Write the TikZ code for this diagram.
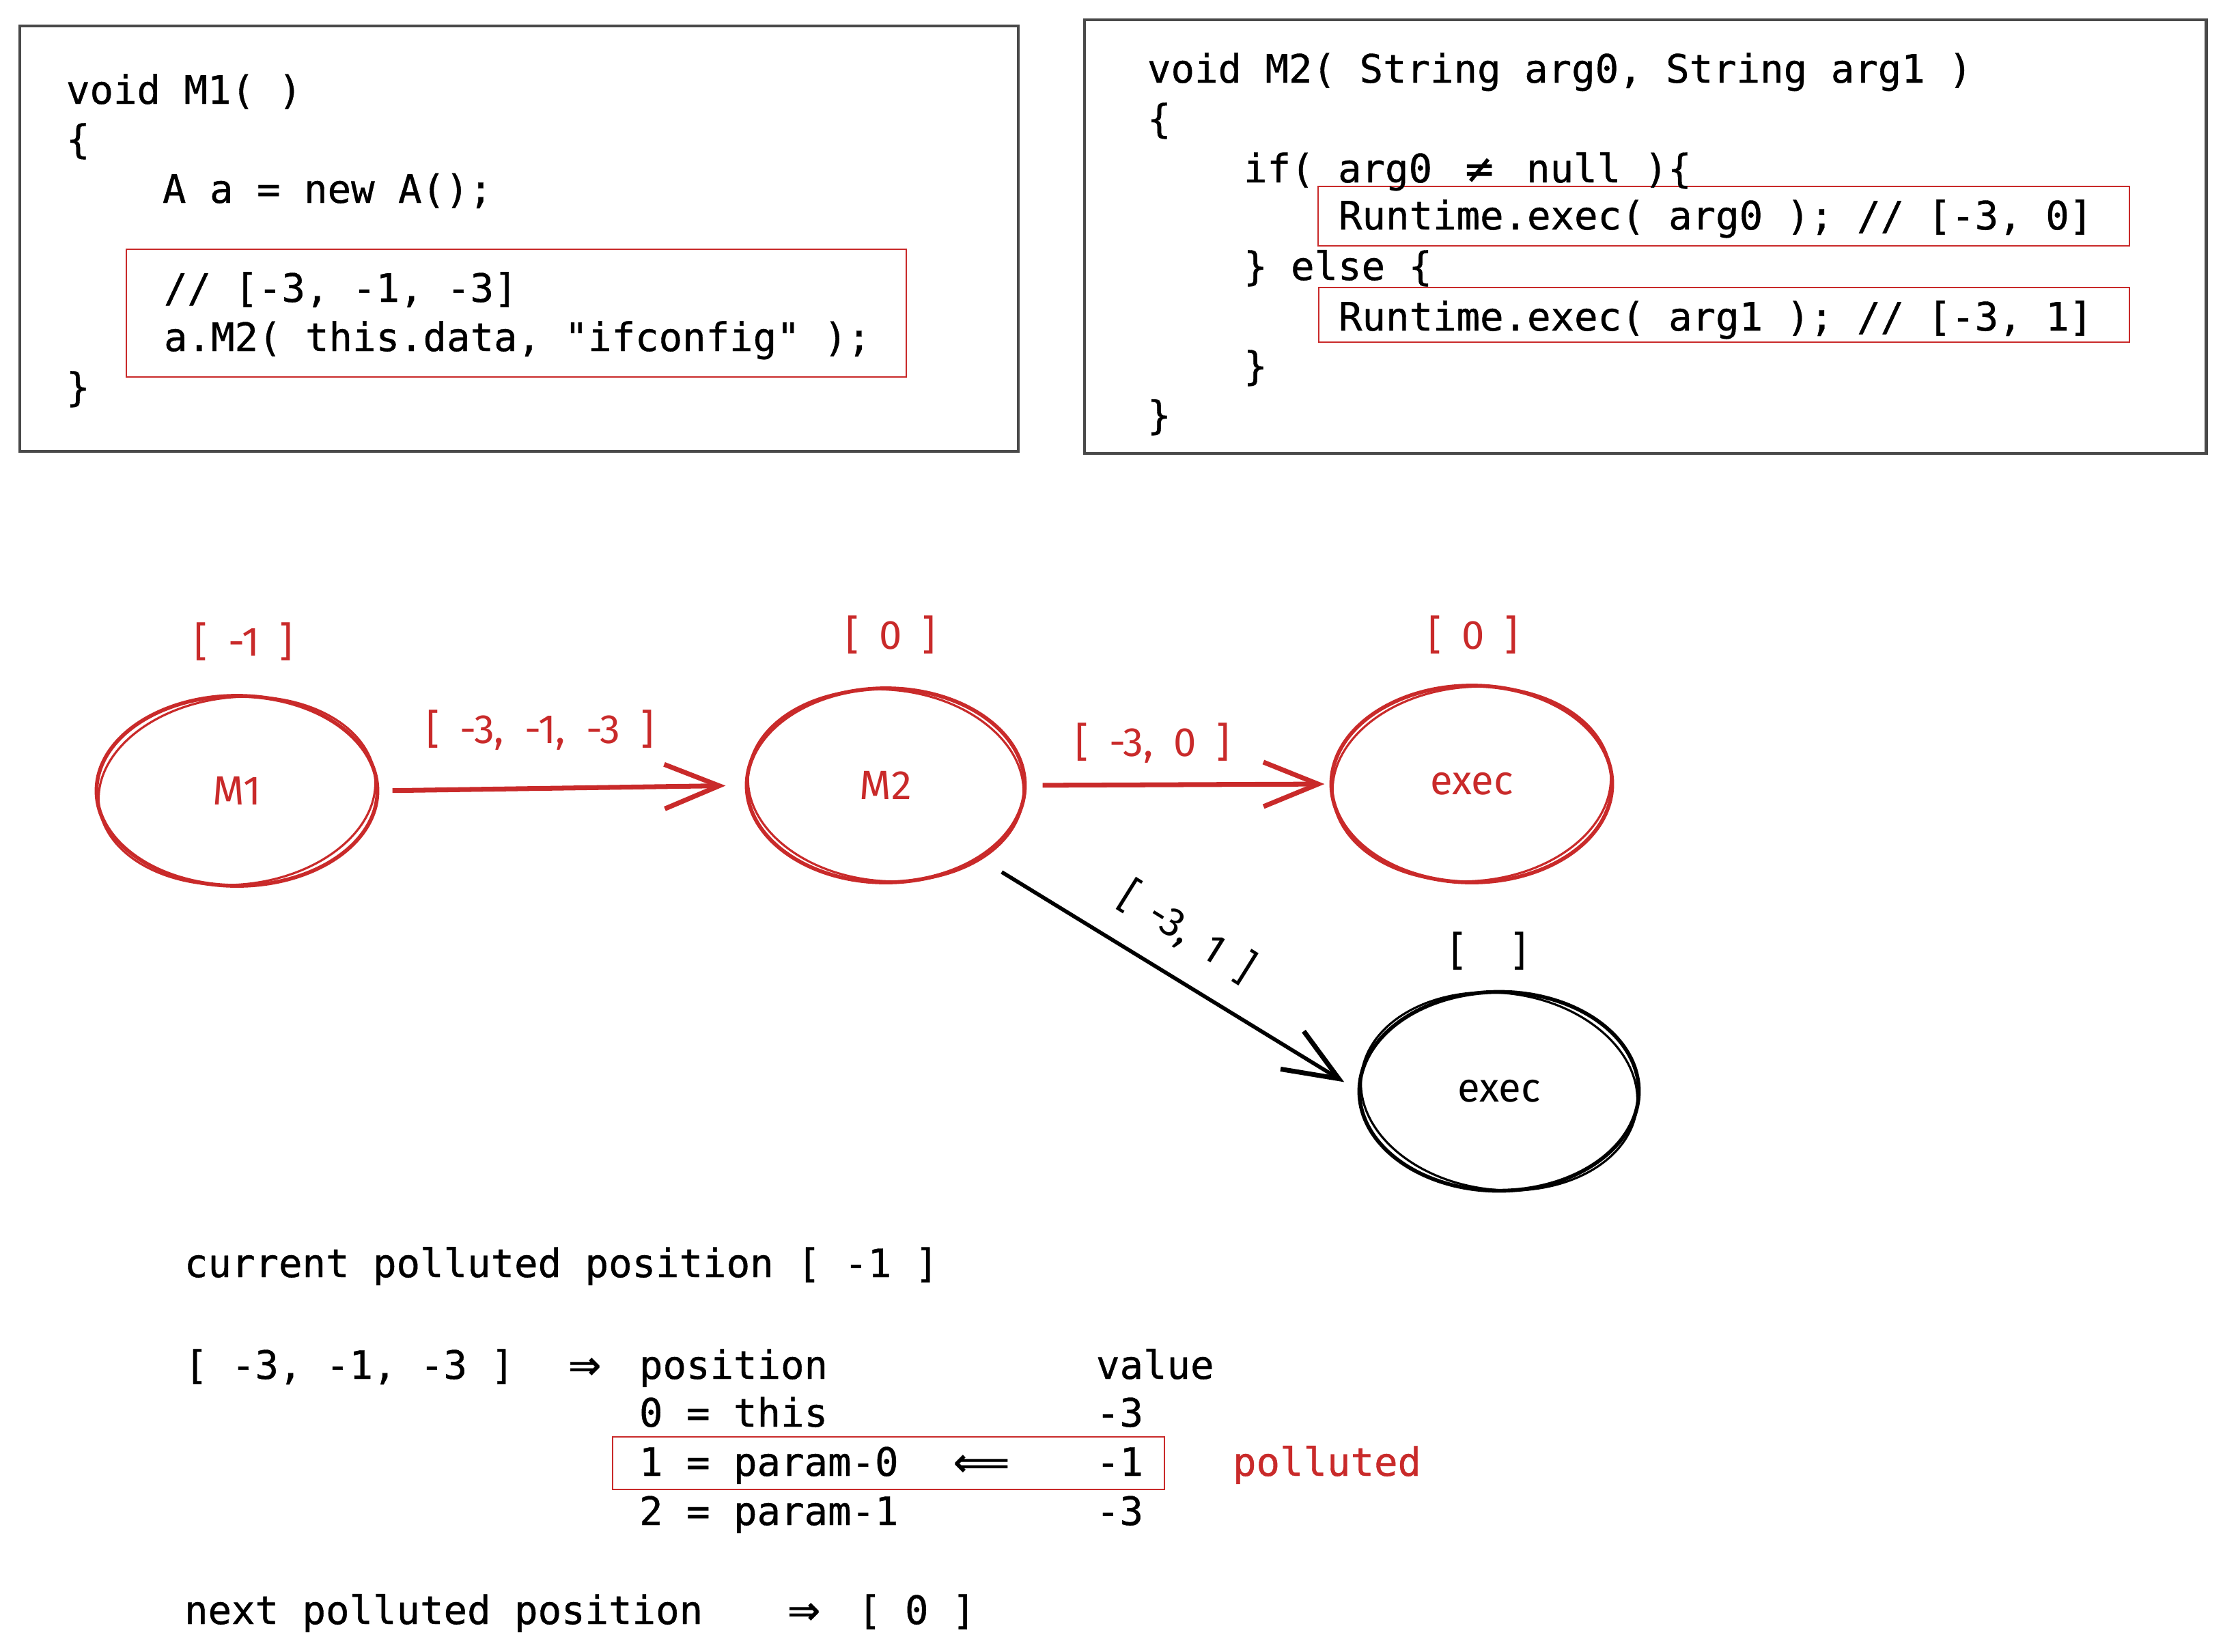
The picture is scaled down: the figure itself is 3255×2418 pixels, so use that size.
\documentclass[tikz,border=0pt]{standalone}
\usepackage{fontspec}
\setmonofont{DejaVu Sans Mono}[FakeBold=0.7]
\newfontfamily\handfont{Fira Sans}
\newfontfamily\arrowfont{DejaVu Sans}[FakeBold=1.5]
\usetikzlibrary{shapes.geometric,arrows.meta}
\definecolor{sred}{RGB}{201,42,42}
\definecolor{sgray}{RGB}{73,73,73}
\begin{document}
\begin{tikzpicture}[x=0.01cm, y=-0.01cm,
  code/.style={font=\ttfamily\fontsize{16.3}{20.6}\selectfont, anchor=base west, inner sep=0pt, outer sep=0pt},
  arw/.style={font=\arrowfont\fontsize{16.3}{20.6}\selectfont, anchor=base west, inner sep=0pt, outer sep=0pt},
  codebox/.style={draw=sgray, line width=1.4pt},
  markbox/.style={draw=sred, line width=0.8pt},
  blob/.style={ellipse, draw, line width=1.6pt, inner sep=0pt, outer sep=0pt, font=\handfont\fontsize{17}{20}\selectfont},
  tag/.style={font=\handfont\fontsize{17}{20}\selectfont, inner sep=0pt},
  sketch/.style={line width=0.9pt},
  link/.style={line width=2pt, -{Straight Barb[length=0.8cm, width=0.65cm, line width=2pt]}}
]
\useasboundingbox (0,0) rectangle (3255,2418);
\fill[white] (0,0) rectangle (3255,2418);

% code boxes
\draw[codebox] (29,38) rectangle (1491,661);
\draw[codebox] (1588,29) rectangle (3230,664);
\draw[markbox] (185,365) rectangle (1327,552);
\draw[markbox] (1930,273) rectangle (3118,360);
\draw[markbox] (1931,421) rectangle (3118,501);

% left code
\node[code] (l1) at (97,152) {void M1( )};
\node[code] (l2) at (97,224) {\{};
\node[code] (l3) at (238,297) {A a = new A();};
\node[code] (l4) at (240,442) {// [-3, -1, -3]};
\node[code] (l5) at (240,514) {a.M2( this.data, "ifconfig" );};
\node[code] (l6) at (97,587) {\}};

% right code
\node[code] (r1) at (1680,121) {void M2( String arg0, String arg1 )};
\node[code] (r2) at (1680,194) {\{};
\node[code] (r3) at (1821,267) {if( arg0 \makebox[19.62pt]{{\arrowfont ≠}} null )\{};
\node[code] (r4) at (1960,336) {Runtime.exec( arg0 ); // [-3, 0]};
\node[code] (r5) at (1821,410) {\} else \{};
\node[code] (r6) at (1960,484) {Runtime.exec( arg1 ); // [-3, 1]};
\node[code] (r7) at (1821,556) {\}};
\node[code] (r8) at (1680,628) {\}};

% graph
\node[blob, sred, minimum width=4.11cm, minimum height=2.78cm] (M1) at (347,1158) {M1};
\node[blob, sred, minimum width=4.07cm, minimum height=2.84cm] (M2) at (1297,1150) {M2};
\node[blob, sred, minimum width=4.11cm, minimum height=2.88cm] (execR) at (2155,1148) {exec};
\node[blob, black, minimum width=4.09cm, minimum height=2.91cm] (execB) at (2195,1598) {exec};

\draw[sketch, sred, rotate around={6:(M1.center)}] (M1.center) ellipse [x radius=2.03cm, y radius=1.37cm];
\draw[sketch, sred, rotate around={-5:(M2.center)}] (M2.center) ellipse [x radius=2.02cm, y radius=1.40cm];
\draw[sketch, sred, rotate around={5:(execR.center)}] (execR.center) ellipse [x radius=2.04cm, y radius=1.42cm];
\draw[sketch, black, rotate around={-7:(execB.center)}] (execB.center) ellipse [x radius=2.03cm, y radius=1.44cm];

\node[tag, sred] (tM1) at (357,940) {[\enspace-1\enspace]};
\node[tag, sred] (tM2) at (1304,930) {[\enspace 0\enspace]};
\node[tag, sred] (tER) at (2157,930) {[\enspace 0\enspace]};
\node[tag, black] (tEB) at (2180,1393) {[\hspace{1.2em}]};

\draw[link, sred, shorten <=0.22cm, shorten >=0.31cm] (M1.east) -- (M2.west);
\draw[link, sred, shorten <=0.26cm, shorten >=0.1cm] (M2.east) -- (execR.west);
\draw[link, black, line width=1.6pt, shorten <=0.4cm, shorten >=0.26cm] (M2.-38) -- (execB.west);

\node[tag, sred] (e1) at (791,1069) {[\enspace-3,\enspace-1,\enspace-3\enspace]};
\node[tag, sred] (e2) at (1688,1088) {[\enspace-3,\enspace 0\enspace]};
\node[tag, black, rotate=-32] (e3) at (1738,1365) {[\enspace-3,\enspace 1\enspace]};

% bottom notes
\node[code] (n1) at (270,1870) {current polluted position [ -1 ]};
\node[code] (n2) at (270,2019) {[ -3, -1, -3 ]};
\node[arw] (n3) at (832,2019) {⇒};
\node[code] (n4) at (936,2019) {position};
\node[code] (n5) at (1605,2019) {value};
\node[code] (n6) at (936,2089) {0 = this};
\node[code] (n7) at (1605,2089) {-3};
\draw[markbox] (897,2104) rectangle (1705,2181);
\node[code] (n8) at (936,2161) {1 = param-0};
\node[arw] (n9) at (1396,2161) {⟸};
\node[code] (n10) at (1605,2161) {-1};
\node[code, sred] (n11) at (1805,2161) {polluted};
\node[code] (n12) at (936,2233) {2 = param-1};
\node[code] (n13) at (1605,2233) {-3};
\node[code] (n14) at (270,2378) {next polluted position};
\node[arw] (n15) at (1153,2378) {⇒};
\node[code] (n16) at (1256,2378) {[ 0 ]};
\end{tikzpicture}
\end{document}
